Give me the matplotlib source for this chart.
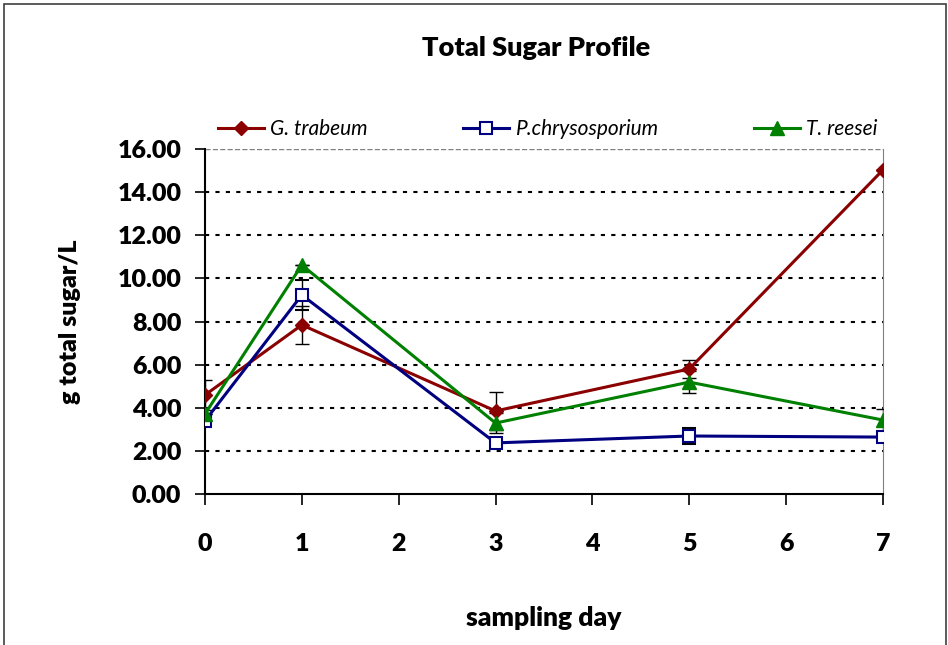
import matplotlib
matplotlib.use("Agg")
import matplotlib.pyplot as plt
from matplotlib.patches import Rectangle

plt.rcParams['font.family'] = ['Lato', 'DejaVu Sans']

days = [0, 1, 3, 5, 7]
g_trabeum = [4.59, 7.84, 3.85, 5.80, 15.03]
g_trabeum_err = [0.70, 0.90, 0.90, 0.40, 0.0]
p_chryso = [3.39, 9.23, 2.37, 2.69, 2.64]
p_chryso_err = [0.0, 0.70, 0.0, 0.37, 0.0]
t_reesei = [3.71, 10.62, 3.29, 5.19, 3.43]
t_reesei_err = [0.0, 0.0, 0.45, 0.50, 0.50]

fig = plt.figure(figsize=(9.48, 6.45), dpi=100)
ax = fig.add_axes([0.2162, 0.2341, 0.7152, 0.5349])

# border around the chart
fig.patches.append(Rectangle((0.004, -0.01), 0.994, 1.004, transform=fig.transFigure,
                             fill=False, edgecolor='#404040', lw=1.2))

ax.errorbar(days, g_trabeum, yerr=g_trabeum_err, color='#8B0000', marker='D', ms=7,
            lw=2.2, ecolor='black', elinewidth=1, capsize=5, label='G. trabeum', zorder=3)
ax.errorbar(days, p_chryso, yerr=p_chryso_err, color='#000080', marker='s', ms=9,
            mfc='white', mec='#000080', mew=1.5, lw=2.2, ecolor='black', elinewidth=1,
            capsize=5, label='P.chrysosporium', zorder=3)
ax.errorbar(days, t_reesei, yerr=t_reesei_err, color='#008000', marker='^', ms=10,
            lw=2.2, ecolor='black', elinewidth=1, capsize=5, label='T. reesei', zorder=3)

ax.set_xlim(0, 7)
ax.set_ylim(0, 16)
ax.set_xticks(range(8))
ax.set_yticks(range(0, 17, 2))
ax.set_yticklabels([f"{v:.2f}" for v in range(0, 17, 2)])
for v in range(2, 16, 2):
    ax.axhline(v, color='black', ls=(0, (2, 3)), lw=1.5, zorder=1)
ax.axhline(16, color='gray', ls='--', lw=1, zorder=1)

ax.spines['top'].set_visible(False)
ax.spines['right'].set_color('gray')
ax.spines['left'].set_linewidth(1.5)
ax.spines['bottom'].set_linewidth(1.5)
ax.tick_params(axis='y', direction='out', length=7, width=1.2, labelsize=18, pad=10)
ax.tick_params(axis='x', direction='out', length=8, width=1.2, labelsize=18, pad=20)
for lab in ax.get_xticklabels() + ax.get_yticklabels():
    lab.set_fontweight('heavy')

ax.set_ylabel('g total sugar/L', fontsize=18, fontweight='heavy', labelpad=26)
ax.set_xlabel('sampling day', fontsize=19, fontweight='heavy', labelpad=37)
fig.text(0.565, 0.925, 'Total Sugar Profile', ha='center', va='center',
         fontsize=19.5, fontweight='heavy')

handles, labels = ax.get_legend_handles_labels()
handles = [h[0] for h in handles]
leg = fig.legend(handles, labels, ncol=3, loc='center', bbox_to_anchor=(0.578, 0.8),
                 frameon=False, prop={'style': 'italic', 'size': 15},
                 columnspacing=4.6, handlelength=2.2, handletextpad=0.3)

fig.savefig('out.png', dpi=100)
